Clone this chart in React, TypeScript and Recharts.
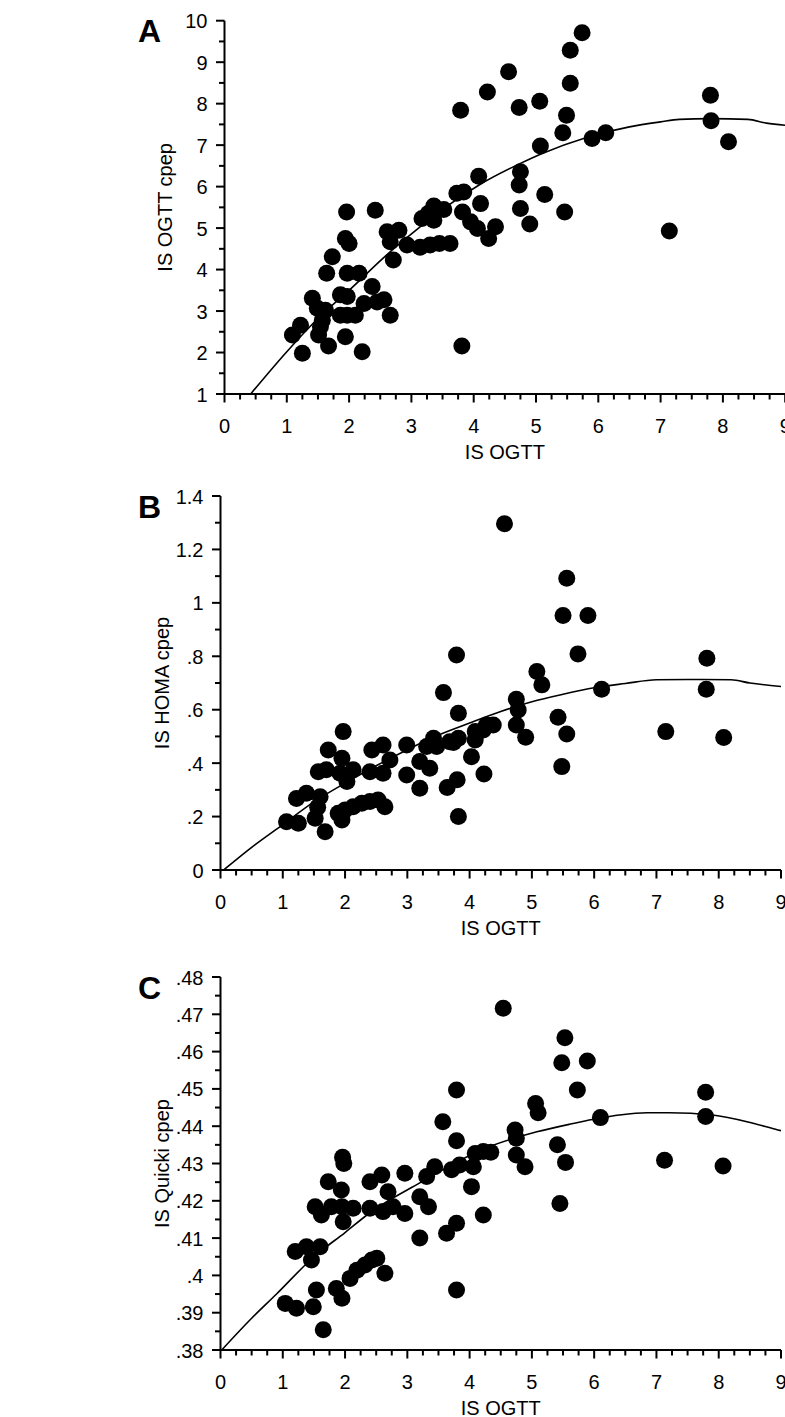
import React from 'react';
import { ComposedChart, Scatter, Line, XAxis, YAxis } from 'recharts';

const FONT = '"Liberation Sans", Arial, Helvetica, sans-serif';

// ---------- shared x axis ticks (IS OGTT) ----------
const xMajorTicks = [0, 1, 2, 3, 4, 5, 6, 7, 8, 9];
const xMinorTicks = [
  0.25, 0.5, 0.75, 1.25, 1.5, 1.75, 2.25, 2.5, 2.75, 3.25, 3.5, 3.75, 4.25, 4.5, 4.75,
  5.25, 5.5, 5.75, 6.25, 6.5, 6.75, 7.25, 7.5, 7.75, 8.25, 8.5, 8.75,
];

// ---------- panel A: IS OGTT cpep ----------
const ogttA = [
  1.09, 1.22, 1.25, 1.41, 1.49, 1.62, 1.57, 1.54, 1.51, 1.67, 1.64, 1.73, 1.86, 1.97, 1.86, 1.97,
  2.1, 1.94, 2.21, 2.24, 2.37, 2.45, 2.56, 2.66, 1.97, 2.16, 1.94, 2.0, 1.96, 2.42, 2.61, 2.8,
  2.66, 2.71, 2.93, 3.14, 3.3, 3.45, 3.62, 3.17, 3.36, 3.36, 3.52, 3.73, 3.84, 3.82, 3.95, 4.11,
  4.06, 4.24, 4.35, 4.08, 3.81, 3.79, 4.22, 4.56, 4.73, 5.06, 5.74, 5.55, 5.55, 5.49, 5.43, 5.07,
  5.9, 6.12, 4.75, 4.73, 5.14, 4.75, 4.9, 5.46, 7.14, 7.8, 7.81, 8.09, 3.27,
];
const cpepA = [
  2.42, 2.66, 1.98, 3.31, 3.07, 3.02, 2.78, 2.62, 2.42, 2.16, 3.91, 4.31, 3.39, 3.35, 2.9, 2.9,
  2.9, 2.38, 2.02, 3.18, 3.59, 3.22, 3.27, 2.9, 3.91, 3.91, 4.75, 4.63, 5.39, 5.43, 4.91, 4.95,
  4.67, 4.23, 4.59, 4.54, 4.59, 4.63, 4.63, 5.23, 5.53, 5.19, 5.45, 5.84, 5.87, 5.39, 5.15, 5.59,
  4.99, 4.75, 5.03, 6.25, 2.16, 7.84, 8.28, 8.77, 7.91, 8.06, 9.71, 9.29, 8.49, 7.72, 7.3, 6.98,
  7.16, 7.3, 6.36, 6.04, 5.81, 5.47, 5.1, 5.39, 4.93, 8.2, 7.59, 7.08, 5.35,
];
const fitXA = [0.42, 1.0, 1.5, 2.0, 2.6, 3.1, 3.5, 4.1, 4.75, 5.1, 5.8, 6.5, 7.0, 7.3, 7.8, 8.4, 8.7, 9.0];
const fitYA = [1.0, 2.02, 2.82, 3.5, 4.35, 4.98, 5.45, 6.05, 6.56, 6.8, 7.18, 7.44, 7.56, 7.62, 7.64, 7.62, 7.53, 7.48];
const yMajorA = [1, 2, 3, 4, 5, 6, 7, 8, 9, 10];
const yMinorA = [1.5, 2.5, 3.5, 4.5, 5.5, 6.5, 7.5, 8.5, 9.5];

// ---------- panel B: IS HOMA cpep ----------
const ogttB = [
  1.06, 1.25, 1.22, 1.38, 1.6, 1.52, 1.56, 1.68, 1.57, 1.7, 1.73, 1.92, 1.95, 1.97, 2.03, 2.13,
  2.4, 2.43, 2.61, 2.61, 2.72, 2.99, 2.99, 1.89, 2.0, 2.13, 2.27, 2.4, 2.53, 2.64, 1.95, 3.2,
  3.36, 3.2, 3.31, 3.42, 3.47, 3.68, 3.82, 3.74, 4.03, 4.09, 4.09, 4.22, 4.27, 4.38, 4.23, 3.64,
  3.8, 3.82, 3.58, 3.82, 3.79, 4.56, 5.56, 5.5, 5.9, 5.74, 5.08, 5.16, 6.12, 4.75, 4.78, 4.75,
  4.9, 5.42, 5.56, 5.48, 7.15, 7.81, 7.8, 8.08,
];
const homaB = [
  0.181, 0.175, 0.268, 0.287, 0.274, 0.194, 0.235, 0.143, 0.368, 0.375, 0.449, 0.362, 0.418, 0.518, 0.331, 0.375,
  0.368, 0.449, 0.468, 0.362, 0.412, 0.468, 0.356, 0.212, 0.225, 0.237, 0.25, 0.256, 0.262, 0.237, 0.187, 0.406,
  0.381, 0.306, 0.462, 0.493, 0.462, 0.48, 0.493, 0.477, 0.424, 0.518, 0.487, 0.524, 0.543, 0.543, 0.359, 0.309,
  0.338, 0.2, 0.664, 0.587, 0.805, 1.296, 1.092, 0.953, 0.953, 0.809, 0.743, 0.693, 0.677, 0.639, 0.599, 0.543,
  0.497, 0.572, 0.509, 0.387, 0.518, 0.793, 0.677, 0.496,
];
const fitXB = [0.05, 0.5, 1.0, 1.5, 2.0, 2.5, 3.0, 3.5, 4.0, 4.5, 5.0, 5.5, 6.0, 6.5, 7.0, 7.5, 8.2, 8.5, 9.0];
const fitYB = [0, 0.085, 0.17, 0.255, 0.325, 0.39, 0.45, 0.505, 0.55, 0.593, 0.63, 0.658, 0.682, 0.698, 0.712, 0.713, 0.712, 0.7, 0.687];
const yMajorB = [0, 0.2, 0.4, 0.6, 0.8, 1, 1.2, 1.4];
const yMinorB = [0.1, 0.3, 0.5, 0.7, 0.9, 1.1, 1.3];

// ---------- panel C: IS Quicki cpep ----------
const ogttC = [
  3.79, 3.57, 3.79, 1.96, 1.98, 1.73, 1.94, 2.4, 2.59, 2.69, 2.96, 1.52, 1.62, 1.78, 1.95, 1.97,
  2.13, 2.4, 2.61, 2.77, 2.96, 3.2, 3.34, 3.2, 3.31, 3.44, 3.71, 3.84, 4.09, 4.22, 4.06, 4.03,
  4.22, 3.63, 3.79, 3.79, 1.2, 1.38, 1.6, 1.46, 1.04, 1.22, 1.49, 1.54, 1.65, 1.86, 1.95, 2.08,
  2.19, 2.32, 2.43, 2.51, 2.64, 4.54, 5.53, 5.48, 5.89, 5.73, 5.06, 5.1, 6.1, 4.73, 4.75, 4.75,
  4.89, 5.41, 5.54, 5.45, 4.34, 7.13, 7.79, 7.79, 8.07,
];
const quickiC = [
  0.4497, 0.4412, 0.4361, 0.4317, 0.43, 0.4251, 0.4229, 0.4251, 0.4269, 0.4224, 0.4274, 0.4184, 0.4162, 0.4184, 0.4184, 0.4144,
  0.418, 0.418, 0.4171, 0.4184, 0.4166, 0.4211, 0.4184, 0.41, 0.4265, 0.4291, 0.4283, 0.4296, 0.4327, 0.4332, 0.4291, 0.4238,
  0.4162, 0.4113, 0.414, 0.3961, 0.4064, 0.4077, 0.4077, 0.4041, 0.3925, 0.3912, 0.3916, 0.3961, 0.3854, 0.3965, 0.3939, 0.3992,
  0.4014, 0.4028, 0.4041, 0.4046, 0.4006, 0.4716, 0.4637, 0.457, 0.4575, 0.4497, 0.4461, 0.4436, 0.4423, 0.439, 0.4368, 0.4323,
  0.4291, 0.435, 0.4303, 0.4193, 0.433, 0.4309, 0.4491, 0.4426, 0.4293,
];
const fitXC = [0.02, 0.5, 0.9, 1.5, 2.0, 2.4, 3.2, 4.27, 5.08, 5.6, 6.4, 6.85, 7.2, 7.9, 8.55, 8.95, 9.0];
const fitYC = [0.38, 0.3885, 0.395, 0.405, 0.4115, 0.4168, 0.4248, 0.4342, 0.4385, 0.4405, 0.443, 0.4436, 0.4436, 0.443, 0.4408, 0.439, 0.4388];
const yMajorC = [0.38, 0.39, 0.4, 0.41, 0.42, 0.43, 0.44, 0.45, 0.46, 0.47, 0.48];
const yMinorC = [0.385, 0.395, 0.405, 0.415, 0.425, 0.435, 0.445, 0.455, 0.465, 0.475];

const zip = (xs: number[], ys: number[]) => xs.map((x, i) => ({ x, y: ys[i] }));

const isIn = (v: number, list: number[]) => list.some((m) => Math.abs(m - v) < 1e-7);

const fmtPlain = (v: number) => String(v);
const fmtDot = (v: number) => (v === 0 ? '0' : String(v).replace(/^0\./, '.'));

const XTick = (props: any) => {
  const { x, y, payload } = props;
  const major = isIn(payload.value, xMajorTicks);
  return (
    <g>
      <line x1={x} y1={y} x2={x} y2={y + (major ? 8.5 : 5.5)} stroke="#000" strokeWidth={2} />
      {major && (
        <text x={x} y={y + 39} textAnchor="middle" fontSize={20} fontFamily={FONT} fill="#000">
          {payload.value}
        </text>
      )}
    </g>
  );
};

const makeYTick = (majors: number[], fmt: (v: number) => string) => (props: any) => {
  const { x, y, payload } = props;
  const major = isIn(payload.value, majors);
  return (
    <g>
      <line x1={x - (major ? 8.5 : 5.5)} y1={y} x2={x} y2={y} stroke="#000" strokeWidth={2} />
      {major && (
        <text x={x - 17} y={y + 7.5} textAnchor="end" fontSize={20} fontFamily={FONT} fill="#000">
          {fmt(payload.value)}
        </text>
      )}
    </g>
  );
};

const XTitle = (props: any) => {
  const vb = props.viewBox || { x: 0, y: 0, width: 0 };
  return (
    <text x={vb.x + vb.width / 2} y={vb.y + 64.5} textAnchor="middle" fontSize={20} fontFamily={FONT} fill="#000">
      IS OGTT
    </text>
  );
};

const makeYTitle = (title: string, letter: string, letterX: number) => (props: any) => {
  const vb = props.viewBox || { x: 0, y: 0, width: 0, height: 0 };
  const cx = vb.x + vb.width - 59;
  const cy = vb.y + vb.height / 2;
  return (
    <g>
      <text
        x={cx}
        y={cy}
        transform={`rotate(-90 ${cx} ${cy})`}
        textAnchor="middle"
        dominantBaseline="central"
        fontSize={20}
        fontFamily={FONT}
        fill="#000"
      >
        {title}
      </text>
      <text x={letterX} y={vb.y + 21.5} fontSize={32} fontWeight="bold" fontFamily={FONT} fill="#000">
        {letter}
      </text>
    </g>
  );
};

const Dot = (props: any) => {
  const { cx, cy } = props;
  if (cx == null || cy == null) return null;
  return <circle cx={cx} cy={cy} r={8.5} fill="#000" />;
};

const CHART_W = 830;

type PanelProps = {
  top: number;
  height: number;
  plotTop: number;
  plotBottom: number;
  plotLeft: number;
  plotRight: number;
  points: { x: number; y: number }[];
  curve: { x: number; y: number }[];
  yDomain: [number, number];
  yMajor: number[];
  yMinor: number[];
  fmt: (v: number) => string;
  title: string;
  letter: string;
};

const Panel = (p: PanelProps) => {
  const YTick = makeYTick(p.yMajor, p.fmt);
  const YTitle = makeYTitle(p.title, p.letter, 138);
  return (
    <div style={{ position: 'absolute', left: 0, top: p.top, width: CHART_W, height: p.height }}>
      <ComposedChart
        width={CHART_W}
        height={p.height}
        margin={{ top: p.plotTop, right: CHART_W - p.plotRight, bottom: 0, left: 0 }}
      >
        <XAxis
          xAxisId="x"
          type="number"
          dataKey="x"
          domain={[0, 9]}
          allowDataOverflow
          ticks={[...xMajorTicks, ...xMinorTicks]}
          interval={0}
          height={p.height - p.plotBottom}
          tickSize={0}
          tickMargin={0}
          tickLine={false}
          axisLine={{ stroke: '#000', strokeWidth: 2 }}
          tick={<XTick />}
          label={<XTitle />}
        />
        <YAxis
          yAxisId="y"
          type="number"
          dataKey="y"
          domain={p.yDomain}
          allowDataOverflow
          ticks={[...p.yMajor, ...p.yMinor]}
          interval={0}
          width={p.plotLeft}
          tickSize={0}
          tickMargin={0}
          tickLine={false}
          axisLine={{ stroke: '#000', strokeWidth: 2 }}
          tick={<YTick />}
          label={<YTitle />}
        />
        <Line
          data={p.curve}
          xAxisId="x"
          yAxisId="y"
          dataKey="y"
          type="monotone"
          dot={false}
          activeDot={false}
          stroke="#000"
          strokeWidth={1.6}
          isAnimationActive={false}
        />
        <Scatter
          data={p.points}
          xAxisId="x"
          yAxisId="y"
          dataKey="y"
          shape={<Dot />}
          isAnimationActive={false}
        />
      </ComposedChart>
    </div>
  );
};

export default function App() {
  return (
    <div
      style={{
        position: 'absolute',
        left: 0,
        top: 0,
        width: 785,
        height: 1417,
        overflow: 'hidden',
        background: '#fff',
      }}
    >
      <Panel
        top={0}
        height={470}
        plotTop={20.7}
        plotBottom={394}
        plotLeft={224.5}
        plotRight={785.2}
        points={zip(ogttA, cpepA)}
        curve={zip(fitXA, fitYA)}
        yDomain={[1, 10]}
        yMajor={yMajorA}
        yMinor={yMinorA}
        fmt={fmtPlain}
        title="IS OGTT cpep"
        letter="A"
      />
      <Panel
        top={470}
        height={480}
        plotTop={26}
        plotBottom={400}
        plotLeft={220.5}
        plotRight={781}
        points={zip(ogttB, homaB)}
        curve={zip(fitXB, fitYB)}
        yDomain={[0, 1.4]}
        yMajor={yMajorB}
        yMinor={yMinorB}
        fmt={fmtDot}
        title="IS HOMA cpep"
        letter="B"
      />
      <Panel
        top={950}
        height={467}
        plotTop={27}
        plotBottom={400}
        plotLeft={220.5}
        plotRight={781}
        points={zip(ogttC, quickiC)}
        curve={zip(fitXC, fitYC)}
        yDomain={[0.38, 0.48]}
        yMajor={yMajorC}
        yMinor={yMinorC}
        fmt={fmtDot}
        title="IS Quicki cpep"
        letter="C"
      />
    </div>
  );
}
